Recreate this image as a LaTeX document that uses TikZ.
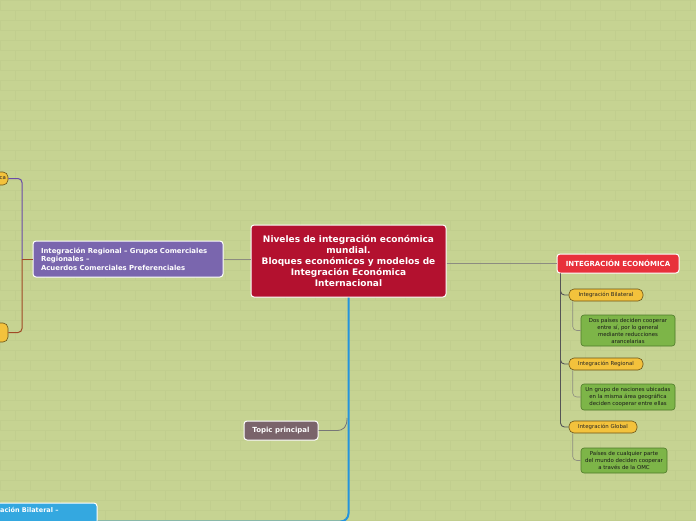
\documentclass[tikz,border=0pt]{standalone}
\usepackage{fontspec}
\setmainfont{DejaVu Sans}
\definecolor{bgc}{HTML}{C6D392}
\definecolor{brick}{HTML}{C1CE8E}
\definecolor{centralc}{HTML}{B3112F}
\definecolor{redc}{HTML}{E8313B}
\definecolor{yelc}{HTML}{F3C23C}
\definecolor{yelb}{HTML}{6B5418}
\definecolor{grnc}{HTML}{7DB548}
\definecolor{grnb}{HTML}{4E7A2A}
\definecolor{purc}{HTML}{7A66AE}
\definecolor{topc}{HTML}{7A646B}
\definecolor{bluec}{HTML}{34A8E0}
\definecolor{bluel}{HTML}{2494DC}
\definecolor{grayl}{HTML}{8C8C80}
\definecolor{darkl}{HTML}{555555}
\definecolor{purl}{HTML}{6A4BA8}
\definecolor{brownl}{HTML}{A04A25}
\tikzset{
  box/.style={draw=white, line width=1pt, rounded corners=3pt, inner sep=0pt, align=center},
  centralbox/.style={box, fill=centralc, text=white, font=\fontsize{9}{11}\selectfont\bfseries},
  redbox/.style={box, fill=redc, text=white, font=\fontsize{7}{8}\selectfont\bfseries},
  yelbox/.style={draw=yelb, line width=0.6pt, fill=yelc, rounded corners=5pt, inner sep=0pt, text=black!85, font=\fontsize{5.4}{6}\selectfont},
  grnbox/.style={draw=grnb, line width=0.6pt, fill=grnc, rounded corners=3pt, inner sep=0pt, align=center, text=black!90, font=\fontsize{5.4}{7}\selectfont},
  purbox/.style={box, fill=purc, text=white, font=\fontsize{6.9}{8.5}\selectfont\bfseries},
  topbox/.style={box, fill=topc, text=white, font=\fontsize{7}{8}\selectfont\bfseries},
  bluebox/.style={box, fill=bluec},
  conn/.style={line width=0.8pt, draw=grayl},
  darkconn/.style={line width=0.9pt, draw=darkl, rounded corners=4pt},
  subconn/.style={line width=0.6pt, draw=grayl, rounded corners=4pt},
}
\begin{document}
\begin{tikzpicture}[x=1pt,y=-1pt]
\useasboundingbox (0,0) rectangle (696,520);
\clip (0,0) rectangle (696,520);
\fill[bgc] (0,0) rectangle (696,520);
% faint brick texture
\foreach \r in {0,...,52}{
  \draw[brick, line width=0.3pt] (0,{\r*10}) -- (696,{\r*10});
}
\foreach \r in {0,2,...,52}{
  \foreach \c in {0,...,24}{
    \draw[brick, line width=0.3pt] ({\c*30},{\r*10}) -- ({\c*30},{\r*10+10});
    \draw[brick, line width=0.3pt] ({\c*30+15},{\r*10+10}) -- ({\c*30+15},{\r*10+20});
  }
}

% central
\node[centralbox, minimum width=195pt, minimum height=72pt] (c) at (348.5,261)
  {Niveles de integración económica\\mundial.\\Bloques económicos y modelos de\\Integración Económica\\Internacional};

% right branch
\node[redbox, minimum width=122pt, minimum height=19pt] (r) at (618,263.5) {INTEGRACIÓN ECONÓMICA};
\node[yelbox, minimum width=74pt, minimum height=12pt] (yb) at (606,295) {Integración Bilateral};
\node[yelbox, minimum width=74pt, minimum height=12pt] (yr) at (606,364) {Integración Regional};
\node[yelbox, minimum width=68pt, minimum height=12pt] (yg) at (603,427) {Integración Global};
\node[grnbox, minimum width=94pt, minimum height=31pt] (gb) at (628,330.5)
  {Dos países deciden cooperar\\entre sí, por lo general\\mediante reducciones\\arancelarias};
\node[grnbox, minimum width=94pt, minimum height=26pt] (gr) at (628,397)
  {Un grupo de naciones ubicadas\\en la misma área geográfica\\deciden cooperar entre ellas};
\node[grnbox, minimum width=86pt, minimum height=25pt] (gg) at (624,460.5)
  {Países de cualquier parte\\del mundo deciden cooperar\\a través de la OMC};

% left branch
\node[purbox, minimum width=190pt, minimum height=36pt, text width=174pt, align=left] (p) at (128,259)
  {Integración Regional – Grupos Comerciales\\Regionales –\\Acuerdos Comerciales Preferenciales};
\node[yelbox, minimum width=48pt, minimum height=13pt, text width=44pt, align=right] (lt) at (-16,178.5) {ca};
\node[yelbox, minimum width=48pt, minimum height=19pt] (lb) at (-16,332.5) {};

% bottom branch
\node[topbox, minimum width=74pt, minimum height=19pt] (t) at (281,430.5) {Topic principal};
\node[bluebox, minimum width=137pt, minimum height=37pt] (b) at (28.5,521.5) {};
\node[anchor=north west, inner sep=0pt, text=white, font=\fontsize{6.5}{8.5}\selectfont\bfseries] (bt) at (-22.5,507.5) {Integración Bilateral –};

% connectors
\draw[conn] (p.east) -- (c.west |- p.east);
\draw[conn] (c.east |- r.west) -- (r.west);
\coordinate (rv) at ([xshift=4pt]r.south west);
\draw[darkconn] (rv) |- (yb.west);
\draw[darkconn] (rv) |- (yr.west);
\draw[darkconn] (rv) |- (yg.west);
\draw[subconn] ([xshift=4pt]yb.south west) |- (gb.west);
\draw[subconn] ([xshift=4pt]yr.south west) |- (gr.west);
\draw[subconn] ([xshift=4pt]yg.south west) |- (gg.west);

\coordinate (pv) at (22,259);
\draw[line width=1pt, draw=brownl] (p.west) -- (pv);
\draw[line width=1pt, draw=purl, rounded corners=4pt] (pv) |- (lt.east);
\draw[line width=1pt, draw=brownl, rounded corners=4pt] (pv) |- (lb.east);

\draw[line width=0.8pt, draw=darkl!80] (t.east) -- (336,430.5) .. controls (344,430.5) and (347,427) .. (347,418);
\draw[line width=2pt, draw=bluel, rounded corners=8pt] (c.south) |- (b.east);
\end{tikzpicture}
\end{document}
